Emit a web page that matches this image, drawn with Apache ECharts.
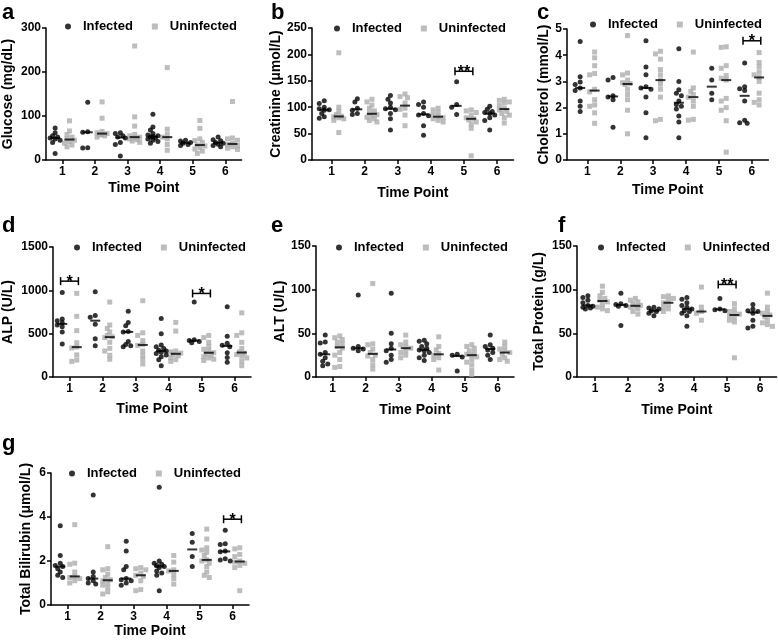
<!DOCTYPE html>
<html><head><meta charset="utf-8">
<script src="https://cdn.jsdelivr.net/npm/echarts@6/dist/echarts.min.js"></script>
<style>html,body{margin:0;padding:0;background:#fff}#c{width:778px;height:642px}</style>
</head><body><div id="c"></div>
<script>
const timePoints = [1, 2, 3, 4, 5, 6];
const tickLabels = ['1', '2', '3', '4', '5', '6'];

// a: Glucose (mg/dL)
const glucoseInfected = [[73,62,55,52,50,48,45,40,15],[131,64,63,28,27],[62,60,55,52,50,40,35,9],[104,75,68,60,57,55,53,52,50,48,45,42,38],[45,43,40,38,35,33],[52,46,44,40,38,36,33,30]];
const glucoseUninfected = [[89,66,58,52,48,45,42,38,34,30],[132,95,65,62,60,58,57,55,52],[259,98,77,58,55,52,50,48,46,43,40],[210,70,58,52,48,35,22],[90,72,48,44,40,34,32,28,25,20,15],[133,50,48,45,38,35,33,30,27,24]];
const glucoseSig = [];

// b: Creatinine (µmol/L)
const creatinineInfected = [[112,107,100,97,95,94,88,82,79],[116,110,98,94,88,86],[122,115,108,100,97,95,88,78,57],[110,105,100,88,85,84,65,47],[148,105,100,86],[102,96,92,90,88,85,80,75,57]];
const creatinineUninfected = [[203,100,92,86,83,82,80,78,75,52],[115,110,104,98,93,89,86,84,81,78,75,72],[125,120,118,108,98,96,85,65],[98,95,90,86,82,80,78,75,72],[95,93,90,85,80,78,76,72,68,60,8],[115,113,110,108,103,98,95,92,88,85,80,70]];
const creatinineSig = [[5, 168, '**']];

// c: Cholesterol (mmol/L)
const cholesterolInfected = [[4.52,3.18,2.98,2.88,2.75,2.65,2.25,2.05,1.85],[3.15,3.05,2.45,2.4,2.3,1.25],[4.55,3.55,3.25,2.8,2.75,2.7,2.4,1.8,0.85],[4.25,3.0,2.68,2.55,2.45,2.25,2.12,2.05,1.95,1.68,1.45,0.85],[3.5,3.05,2.55,2.3],[3.7,2.8,2.72,2.65,2.25,1.52,1.42,1.4]];
const cholesterolUninfected = [[4.12,3.9,3.6,3.3,3.25,2.7,2.6,2.3,2.1,2.05,1.8,1.4],[4.75,3.32,3.25,3.05,2.95,2.92,2.88,2.7,2.5,2.3,1.9,1.0],[4.15,4.05,3.85,3.45,3.25,3.05,2.9,2.7,2.4,1.55,1.5],[4.12,2.75,2.62,2.5,2.4,2.25,2.05,1.55,1.52],[4.32,4.3,3.6,3.5,3.22,3.12,3.05,2.35,2.25,2.0,1.9,1.5,0.3],[4.1,3.72,3.55,3.35,3.25,3.15,3.0,2.55,2.3,2.2,2.1]];
const cholesterolSig = [[6, 4.55, '*']];

// d: ALP (U/L)
const alpInfected = [[975,670,650,625,600,580,520,380],[985,710,690,610,440,360],[760,630,590,525,520,410,375,360,350],[675,500,370,350,330,310,300,285,270,255,235,200,130],[865,430,420,410,395],[810,470,390,365,350,280,225,170]];
const alpUninfected = [[965,700,535,395,345,335,255,195,180],[865,600,560,520,480,465,455,400,330,300,250,205],[880,510,480,420,375,365,300,250,205,150],[630,530,300,290,275,260,245,225,200,180],[480,455,400,350,320,300,280,265,250,235,220,205,190],[740,510,480,400,330,290,275,260,240,220,180,130]];
const alpSig = [[1, 1106, '*'], [5, 964, '*']];

// e: ALT (U/L)
const altInfected = [[48,40,39,28,26,22,18,15,13],[94,35,33,32,30],[96,50,38,33,30,25,20,17],[42,41,38,35,33,31,30,28,25,22,19],[26,25,23,7],[48,37,35,33,31,28,25,20]];
const altUninfected = [[47,45,43,40,38,35,33,28,25,20,12,11],[107,38,37,32,28,25,24,20,14,9],[48,40,37,35,33,30,28,25,22],[46,35,31,27,25,22,20,8],[37,35,33,30,28,26,25,23,20,17,14,8,3],[40,35,32,30,28,26,22,20,18]];
const altSig = [];

// f: Total Protein (g/L)
const proteinInfected = [[93,91,88,85,82,81,80,79,78],[96,84,83,82,81,59],[80,79,78,76,75,73,70],[91,89,85,82,80,78,76,75,73,70,58],[90,78,77,76],[83,78,76,75,73,65,58,56]];
const proteinUninfected = [[104,97,93,90,88,86,83,80,78,76],[90,88,86,84,82,81,80,78,75,72],[93,92,90,88,85,83,80,78,75],[103,80,75,73,65],[84,78,75,73,72,70,68,65,63,22],[96,80,75,73,71,69,65,62,60,58]];
const proteinSig = [[5, 106, '**']];

// g: Total Bilirubin (µmol/L)
const bilirubinInfected = [[3.6,2.25,1.9,1.8,1.75,1.65,1.5,1.35,1.25],[5.0,1.5,1.3,1.2,1.1,1.0,0.95],[2.9,2.45,1.75,1.6,1.2,1.15,1.1,1.0,0.9],[5.35,2.0,1.9,1.85,1.8,1.75,1.7,1.55,1.45,1.35,0.65],[3.25,2.85,2.2,1.75],[3.4,2.78,2.75,2.45,2.42,2.1,2.05,2.0]];
const bilirubinUninfected = [[3.65,1.9,1.85,1.5,1.3,1.25,1.2,1.1,1.0],[2.65,1.65,1.6,1.4,1.25,1.15,1.1,1.0,0.9,0.8,0.6,0.5],[1.7,1.65,1.6,1.45,1.35,1.3,1.1,0.7,0.65],[2.25,1.95,1.6,1.55,1.4,1.2,0.95],[3.45,3.0,2.6,2.5,2.4,2.25,2.05,2.0,1.9,1.75,1.5,1.35,1.25],[2.6,2.55,2.3,2.2,2.0,1.95,1.9,1.8,1.7,0.65]];
const bilirubinSig = [[6, 3.9, '*']];

// ---- layout (positions / styles) ----
const panels = [
  {letter:'a', name:'Glucose (mg/dL)', inf:glucoseInfected, un:glucoseUninfected, sig:glucoseSig, max:300, interval:100,
   left:46, top:28, height:132, xMin:0.5, s:32.6, yGap:31, xGap:21, lgLeft:65, lgTop:20, lx:2, ly:11},
  {letter:'b', name:'Creatinine (\u03bcmol/L)', inf:creatinineInfected, un:creatinineUninfected, sig:creatinineSig, max:250, interval:50,
   left:312, top:28, height:132, xMin:0.41, s:33.1, yGap:27, xGap:26, lgLeft:334, lgTop:22, lx:271, ly:11},
  {letter:'c', name:'Cholesterol (mmol/L)', inf:cholesterolInfected, un:cholesterolUninfected, sig:cholesterolSig, max:5, interval:1,
   left:567, top:29, height:131, xMin:0.38, s:32.9, yGap:14, xGap:23, lgLeft:590, lgTop:18, lx:537, ly:11},
  {letter:'d', name:'ALP (U/L)', inf:alpInfected, un:alpUninfected, sig:alpSig, max:1500, interval:500,
   left:53, top:247, height:130, xMin:0.5, s:33, yGap:38, xGap:25, lgLeft:74, lgTop:241, lx:2, ly:224},
  {letter:'e', name:'ALT (U/L)', inf:altInfected, un:altUninfected, sig:altSig, max:150, interval:50,
   left:316, top:246, height:131, xMin:0.5, s:33, yGap:29, xGap:26, lgLeft:336, lgTop:241, lx:271, ly:224},
  {letter:'f', name:'Total Protein (g/L)', inf:proteinInfected, un:proteinUninfected, sig:proteinSig, max:150, interval:50,
   left:577, top:246, height:131, xMin:0.45, s:33, yGap:31, xGap:26, lgLeft:598, lgTop:241, lx:558, ly:224},
  {letter:'g', name:'Total Bilirubin (\u03bcmol/L)', inf:bilirubinInfected, un:bilirubinUninfected, sig:bilirubinSig, max:6, interval:2,
   left:51, top:473, height:132, xMin:0.5, s:33, yGap:18, xGap:14, lgLeft:69, lgTop:467, lx:2, ly:442}
];

const FONT = 'Liberation Sans, Arial, Helvetica, sans-serif';
const GRAY = '#acacac';
const OFF = 0.22;

function median(arr) {
  const a = arr.slice().sort((x, y) => x - y);
  const n = a.length;
  return n % 2 ? a[(n - 1) / 2] : (a[n / 2 - 1] + a[n / 2]) / 2;
}

// simple beeswarm: spread points with close values sideways
function swarm(values, center, pxY, pxX) {
  const order = values.map((v, i) => i).sort((a, b) => values[b] - values[a]);
  const placed = [];
  const out = new Array(values.length);
  const d = 3.8, step = 2.5;
  const ks = [0, -1, 1, -2, 2];
  for (const i of order) {
    const y = values[i] * pxY;
    let best = 0, bestDist = -1;
    for (const k of ks) {
      const x = k * step;
      let minD = Infinity;
      for (const p of placed) minD = Math.min(minD, Math.hypot(p[0] - x, p[1] - y));
      if (minD >= d) { best = x; bestDist = Infinity; break; }
      if (minD > bestDist) { bestDist = minD; best = x; }
    }
    placed.push([best, y]);
    out[i] = [center + best / pxX, values[i]];
  }
  return out;
}

const grid = [], xAxis = [], yAxis = [], series = [], legend = [], graphic = [];
const axisLineStyle = {color: '#000', width: 1.5};

panels.forEach((p, gi) => {
  const width = (6.5 - p.xMin) * p.s;
  grid.push({left: p.left, top: p.top, width: width, height: p.height});
  xAxis.push({
    gridIndex: gi, type: 'value', min: p.xMin, max: 6.5,
    splitLine: {show: false},
    axisLine: {show: true, onZero: false, lineStyle: axisLineStyle},
    axisTick: {show: true, customValues: timePoints, length: 4, lineStyle: axisLineStyle},
    axisLabel: {customValues: timePoints, formatter: v => tickLabels[timePoints.indexOf(v)], color: '#000', fontWeight: 'bold', fontSize: 12, fontFamily: FONT, margin: 6},
    name: 'Time Point', nameLocation: 'middle', nameGap: p.xGap,
    nameTextStyle: {fontSize: 14, fontWeight: 'bold', color: '#000', fontFamily: FONT}
  });
  yAxis.push({
    gridIndex: gi, type: 'value', min: 0, max: p.max, interval: p.interval,
    splitLine: {show: false},
    axisLine: {show: true, lineStyle: axisLineStyle},
    axisTick: {show: true, length: 4, lineStyle: axisLineStyle},
    axisLabel: {formatter: v => String(v), color: '#000', fontWeight: 'bold', fontSize: 12, fontFamily: FONT, margin: 5},
    name: p.name, nameLocation: 'middle', nameGap: p.yGap,
    nameTextStyle: {fontSize: 14, fontWeight: 'bold', color: '#000', fontFamily: FONT}
  });
  const pxY = p.height / p.max;
  let infData = [], unData = [], medData = [];
  timePoints.forEach((t, ti) => {
    infData = infData.concat(swarm(p.inf[ti], t - OFF, pxY, p.s));
    unData = unData.concat(swarm(p.un[ti], t + OFF, pxY, p.s));
    medData.push([t - OFF, median(p.inf[ti])]);
    medData.push([t + OFF, median(p.un[ti])]);
  });
  series.push({name: 'Infected', type: 'scatter', xAxisIndex: gi, yAxisIndex: gi, symbol: 'circle', symbolSize: 5,
    itemStyle: {color: '#000'}, data: infData, z: 3, silent: true});
  series.push({name: 'Uninfected', type: 'scatter', xAxisIndex: gi, yAxisIndex: gi, symbol: 'rect', symbolSize: 5,
    itemStyle: {color: GRAY}, data: unData, z: 2, silent: true});
  series.push({name: 'median', type: 'scatter', xAxisIndex: gi, yAxisIndex: gi, symbol: 'rect', symbolSize: [10, 2],
    itemStyle: {color: '#000'}, data: medData, z: 4, silent: true});
  if (p.sig.length) {
    const sig = p.sig;
    series.push({name: 'sig', type: 'custom', xAxisIndex: gi, yAxisIndex: gi, z: 5, silent: true,
      data: sig.map(s => [s[0], s[1]]),
      renderItem: function (params, api) {
        const x = api.value(0), y = api.value(1);
        const p1 = api.coord([x - 0.27, y]), p2 = api.coord([x + 0.27, y]);
        const h = 4;
        const st = {stroke: '#000', lineWidth: 1.5};
        return {type: 'group', children: [
          {type: 'line', shape: {x1: p1[0], y1: p1[1], x2: p2[0], y2: p2[1]}, style: st},
          {type: 'line', shape: {x1: p1[0], y1: p1[1] - h, x2: p1[0], y2: p1[1] + h}, style: st},
          {type: 'line', shape: {x1: p2[0], y1: p2[1] - h, x2: p2[0], y2: p2[1] + h}, style: st},
          {type: 'text', style: {text: sig[params.dataIndex][2], x: (p1[0] + p2[0]) / 2, y: p1[1] + 1,
            textAlign: 'center', textVerticalAlign: 'middle', font: 'bold 16px ' + FONT, fill: '#000'}}
        ]};
      }
    });
  }
  legend.push({
    left: p.lgLeft, top: p.lgTop, padding: 0, itemGap: 19, itemWidth: 6, itemHeight: 6, selectedMode: false,
    textStyle: {fontSize: 13, fontWeight: 'bold', color: '#000', fontFamily: FONT, padding: [0, 0, 0, 7]},
    data: [{name: 'Infected', icon: 'circle'}, {name: 'Uninfected', icon: 'rect'}]
  });
  graphic.push({type: 'text', left: p.lx, top: p.ly - 9, style: {text: p.letter, font: 'bold 22px ' + FONT, fill: '#000'}});
});

const chart = echarts.init(document.getElementById('c'), null, {renderer: 'canvas'});
chart.setOption({
  animation: false,
  backgroundColor: '#fff',
  grid, xAxis, yAxis, series, legend, graphic
});
</script>
</body></html>
